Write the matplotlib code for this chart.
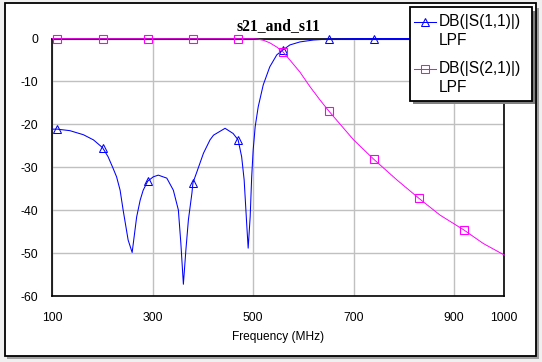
import numpy as np
import matplotlib
matplotlib.use("Agg")
import matplotlib.pyplot as plt
from matplotlib.patches import Rectangle
from matplotlib.lines import Line2D

# ---------------- data ----------------
s11_freq = [100, 110, 135, 162, 182, 200, 211, 221, 228, 235, 241, 251, 259,
            263, 268, 275, 281, 290, 301, 311, 328, 341, 351, 356, 361, 366,
            371, 378, 380, 388, 401, 414, 421, 444, 460, 470, 477, 482, 487,
            490, 494, 497, 500, 504, 510, 520, 533, 547, 560, 573, 593, 620,
            650, 700, 740, 800, 830, 920, 1000]
s11_db = [-21.1, -21.1, -21.45, -22.4, -23.6, -25.4, -27.5, -30.2, -32.2, -35.3,
          -39.9, -46.9, -49.8, -46.1, -41.5, -37.6, -35.3, -33.2, -32.2, -31.8,
          -32.5, -35.3, -39.9, -47.7, -57.2, -49.2, -42.2, -36.0, -33.6, -31.0,
          -26.7, -23.6, -22.5, -20.9, -22.1, -23.6, -27.5, -32.9, -43.0, -48.8,
          -41.5, -32.2, -25.9, -20.5, -15.9, -10.8, -6.6, -3.8, -2.6, -1.5,
          -0.8, -0.35, -0.12, -0.03, -0.02, -0.01, -0.01, 0.0, 0.0]

s21_freq = [100, 110, 200, 290, 380, 470, 500, 510, 520, 533, 547, 560, 573,
            593, 613, 633, 650, 700, 740, 786, 830, 872, 920, 958, 1000]
s21_db = [-0.03, -0.03, -0.05, -0.05, -0.06, -0.05, -0.05, -0.15, -0.4, -1.0,
          -2.0, -3.2, -5.0, -7.8, -11.2, -14.3, -16.8, -23.6, -28.1, -32.9,
          -37.2, -41.1, -44.6, -47.7, -50.4]

marker_freqs = [110, 200, 290, 380, 470, 560, 650, 740, 830, 920]

xticks = [100, 300, 500, 700, 900, 1000]
yticks = [0, -10, -20, -30, -40, -50, -60]

title = "s21_and_s11"
xlabel = "Frequency (MHz)"
s11_label = ["DB(|S(1,1)|)", "LPF"]
s21_label = ["DB(|S(2,1)|)", "LPF"]

BLUE = "#0000ff"
MAG = "#ff00ff"
SANS = ["Liberation Sans", "DejaVu Sans"]

W, H = 542, 362
fig = plt.figure(figsize=(W / 100, H / 100), dpi=100, facecolor="#f0f0f0")


def fx(x):
    return x / W


def fy(y):
    return 1 - y / H


# outer frame with shadow
fig.add_artist(Rectangle((fx(7), fy(358.5)), fx(532), (355.5 - 4.5) / H,
                         facecolor="#a0a0a0", edgecolor="none", zorder=0))
fig.add_artist(Rectangle((fx(4.5), fy(355.5)), fx(531), (355.5 - 2.5) / H,
                         facecolor="white", edgecolor="black", lw=1.3, zorder=0.5))

ax = fig.add_axes([fx(52.3), fy(296.3), (504.3 - 52.3) / W, (296.3 - 38.5) / H])
ax.set_facecolor("white")
ax.set_zorder(1)

s11_mask = [f in marker_freqs for f in s11_freq]
s21_mask = [f in marker_freqs for f in s21_freq]

ax.plot(s11_freq, s11_db, color=BLUE, lw=0.75, marker="^", markevery=s11_mask,
        markersize=5.5, markerfacecolor="none", markeredgecolor=BLUE,
        markeredgewidth=0.75, clip_on=False, zorder=3)
ax.plot(s21_freq, s21_db, color=MAG, lw=0.7, marker="s", markevery=s21_mask,
        markersize=5.2, markerfacecolor="none", markeredgecolor=MAG,
        markeredgewidth=0.8, clip_on=False, zorder=3)

ax.set_xlim(100, 1000)
ax.set_ylim(-60, 0)
ax.set_xticks(xticks)
ax.set_xticklabels([str(t) for t in xticks])
ax.set_yticks(yticks)
ax.set_yticklabels([str(t) for t in yticks])
ax.grid(True, color="#c0c0c0", lw=1.0)
ax.set_axisbelow(True)
ax.tick_params(length=0, labelsize=8.8)
ax.tick_params(axis="y", pad=10)
ax.tick_params(axis="x", pad=11.5)
for lab in ax.get_xticklabels() + ax.get_yticklabels():
    lab.set_fontfamily(SANS)
for sp in ax.spines.values():
    sp.set_color("black")
    sp.set_linewidth(1.2)

ax.set_xlabel(xlabel, fontsize=8.6, family=SANS, labelpad=5)
ax.set_title(title, fontsize=11.3, fontweight="bold",
             family=["Liberation Serif", "DejaVu Serif"], pad=6)

# legend (drawn manually: first line of each label aligned with handle)
lx0, ly0, lx1, ly1 = 410, 7, 531.5, 100.7
fig.add_artist(Rectangle((fx(lx0 + 3), fy(ly1 + 3.5)), (lx1 - lx0) / W,
                         (ly1 - ly0) / H, facecolor="#808080",
                         edgecolor="none", zorder=4))
fig.add_artist(Rectangle((fx(lx0), fy(ly1)), (lx1 - lx0) / W, (ly1 - ly0) / H,
                         facecolor="white", edgecolor="black", lw=1.3,
                         zorder=5))

entries = [(s11_label, BLUE, "^", 5.5, 21.7), (s21_label, MAG, "s", 5.2, 69.0)]
for lines_txt, col, mk, ms, yy in entries:
    fig.add_artist(Line2D([fx(414), fx(436)], [fy(yy), fy(yy)], color=col,
                          lw=0.75, zorder=6))
    fig.add_artist(Line2D([fx(425)], [fy(yy)], color=col, marker=mk,
                          markersize=ms, markerfacecolor="none",
                          markeredgewidth=0.75, zorder=6))
    for i, t in enumerate(lines_txt):
        fig.text(fx(439), fy(yy + i * 18.8), t, fontsize=11.2,
                 family=SANS, va="center",
                 ha="left", color="black", zorder=6)

fig.savefig("out.png", dpi=100, facecolor=fig.get_facecolor())
